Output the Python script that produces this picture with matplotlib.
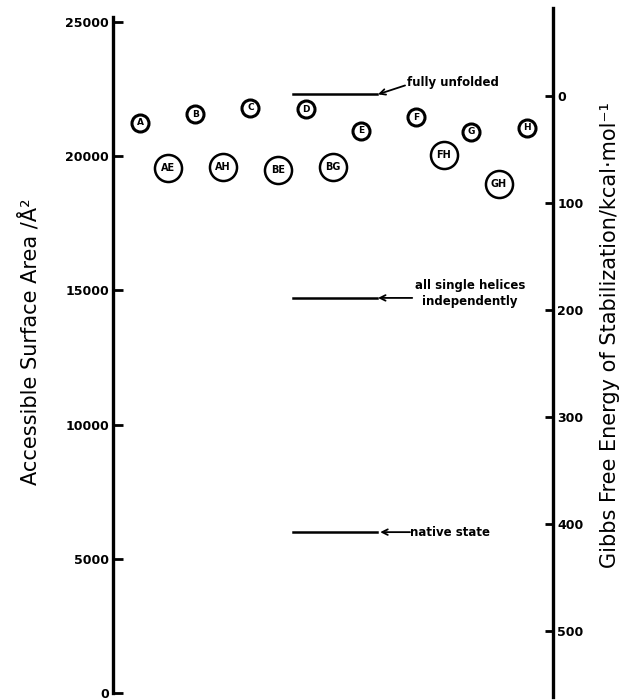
import matplotlib
matplotlib.use("Agg")
import matplotlib.pyplot as plt

# ---- data ----
single_labels = ["A", "B", "C", "D", "E", "F", "G", "H"]
single_x = [0, 1, 2, 3, 4, 5, 6, 7]
single_area = [21250, 21550, 21800, 21750, 20950, 21450, 20900, 21050]

pair_labels = ["AE", "AH", "BE", "BG", "FH", "GH"]
pair_x = [0.5, 1.5, 2.5, 3.5, 5.5, 6.5]
pair_area = [19550, 19600, 19500, 19600, 20050, 18950]

state_labels = ["fully unfolded", "all single helices\nindependently", "native state"]
state_area = [22300, 14720, 6000]

left_ticks = [0, 5000, 10000, 15000, 20000, 25000]
right_ticks = [0, 100, 200, 300, 400, 500]

# conversion area <-> energy (axis alignment)
A0 = 22237.0
A_PER_KCAL = 39.84

fig = plt.figure(figsize=(6.31, 7.0), dpi=100)
ax = fig.add_axes([113 / 631, 3 / 700, 440 / 631, 689 / 700])
ylo, yhi = -138, 25514
ax.set_ylim(ylo, yhi)
ax.set_xlim(-0.49, 7.48)

for s in ["top", "bottom"]:
    ax.spines[s].set_visible(False)
ax.spines["left"].set_linewidth(2.4)
ax.spines["left"].set_bounds(0, 25180)
ax.spines["right"].set_visible(False)
ax.set_xticks([])
ax.set_yticks(left_ticks)
ax.set_yticklabels([str(t) for t in left_ticks], fontweight="bold", fontsize=9)
ax.tick_params(axis="y", direction="in", length=7, width=2, pad=3)

ax2 = ax.twinx()
ax2.set_ylim((A0 - ylo) / A_PER_KCAL, (A0 - yhi) / A_PER_KCAL)
for s in ["top", "bottom", "left"]:
    ax2.spines[s].set_visible(False)
ax2.spines["right"].set_linewidth(2.4)
ax2.set_yticks(right_ticks)
ax2.set_yticklabels([str(t) for t in right_ticks], fontweight="bold", fontsize=9)
ax2.tick_params(axis="y", direction="in", length=6, width=2, pad=3)

ax.set_ylabel("Accessible Surface Area /Å²", fontsize=15)
ax.yaxis.label.set_va("center")
ax.yaxis.label.set_ha("center")
ax.yaxis.set_label_coords((30 - 113) / 440, (697 - 342) / 689)
ax2.set_ylabel("Gibbs Free Energy of Stabilization/kcal·mol⁻¹", fontsize=15)
ax2.yaxis.label.set_va("center")
ax2.yaxis.label.set_ha("center")
ax2.yaxis.label.set_rotation(90)
ax2.yaxis.set_label_coords((610 - 113) / 440, (697 - 335) / 689)

# points
ax.scatter(single_x, single_area, s=150, facecolor="white", edgecolor="black",
           linewidth=2.2, zorder=3, clip_on=False)
for x, y, t in zip(single_x, single_area, single_labels):
    ax.text(x, y, t, ha="center", va="center", fontsize=6.5, fontweight="bold", zorder=4)
ax.scatter(pair_x, pair_area, s=380, facecolor="white", edgecolor="black",
           linewidth=1.8, zorder=3, clip_on=False)
for x, y, t in zip(pair_x, pair_area, pair_labels):
    ax.text(x, y, t, ha="center", va="center", fontsize=7, fontweight="bold", zorder=4)

# state lines with arrows
x0, x1 = 2.77, 4.29
for area in state_area:
    ax.plot([x0, x1], [area, area], color="black", lw=1.8)

arrow = dict(arrowstyle="->", color="black", lw=1.3, shrinkA=0, shrinkB=0)
ax.annotate("", xy=(4.31, state_area[0]), xytext=(4.80, state_area[0] + 330),
            arrowprops=arrow)
ax.text(4.83, state_area[0] + 450, state_labels[0], fontsize=8.5, fontweight="bold",
        ha="left", va="center")

ax.annotate("", xy=(4.31, state_area[1]), xytext=(4.93, state_area[1]),
            arrowprops=arrow)
ax.text(5.98, state_area[1] + 150, state_labels[1], fontsize=8.5, fontweight="bold",
        ha="center", va="center", linespacing=1.3)

ax.annotate("", xy=(4.35, state_area[2]), xytext=(4.89, state_area[2]),
            arrowprops=arrow)
ax.text(4.89, state_area[2], state_labels[2], fontsize=8.5, fontweight="bold",
        ha="left", va="center")

fig.savefig("out.png", dpi=100)
